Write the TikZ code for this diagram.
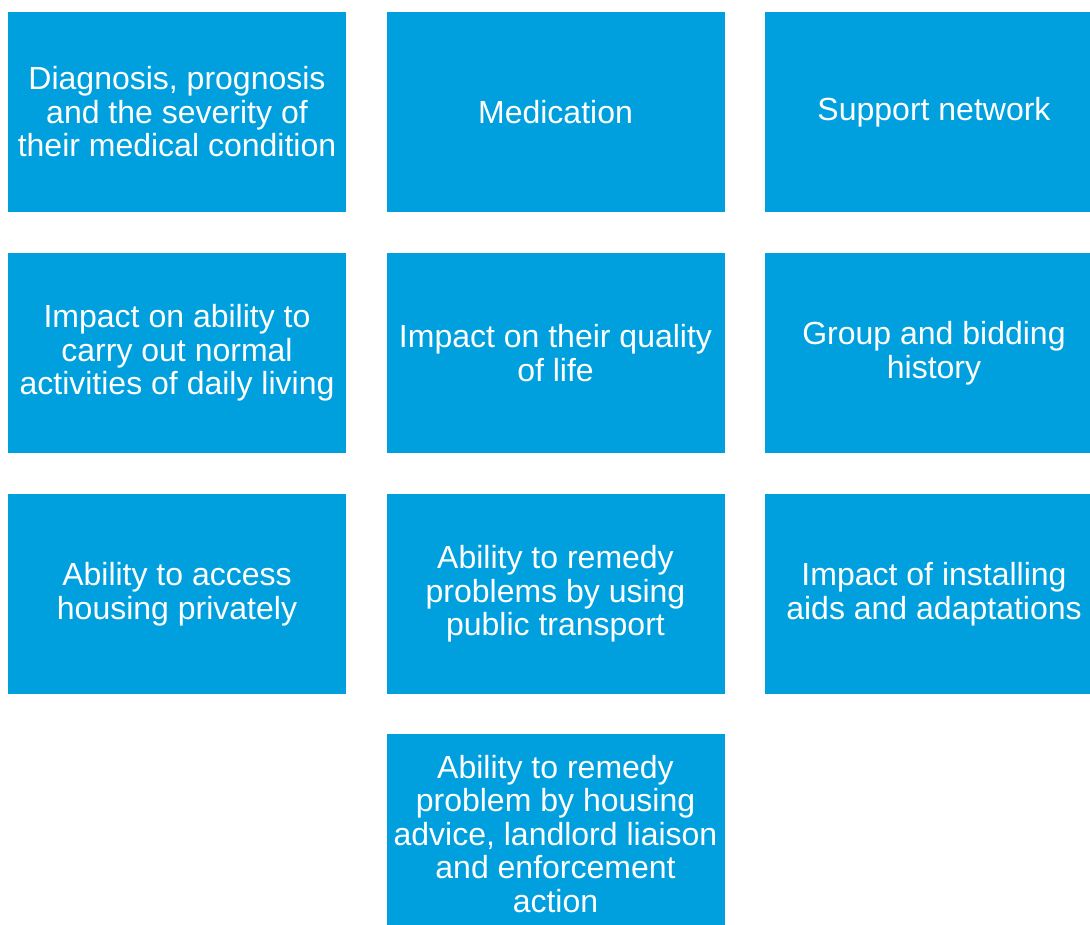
\documentclass[tikz,border=0pt]{standalone}
\usepackage{fontspec}
\setmainfont{Liberation Sans}
\definecolor{cellColor}{RGB}{0,160,223}
\tikzset{
  cell/.style={fill=cellColor,text=white,inner sep=0pt,outer sep=0pt,
    minimum width=338,minimum height=200,text width=330,align=center,
    font=\fontsize{32}{33.5}\selectfont,
    execute at begin node={\spaceskip=0.278em\relax}}
}
\begin{document}
\begin{tikzpicture}[x=1pt,y=-1pt]
\path[use as bounding box,fill=white] (0,0) rectangle (1090,925);

\node[cell] (diagnosis) at (177.0,112.0) {Diagnosis, prognosis\\and the severity of\\their medical condition};

\node[cell] (medication) at (555.5,112.0) {Medication};

\node[cell] (support) at (934.0,112.0) {Support network};

\node[cell] (activities) at (177.0,353.0) {Impact on ability to\\carry out normal\\activities of daily living};

\node[cell] (quality) at (555.5,353.0) {Impact on their quality\\of life};

\node[cell] (bidding) at (934.0,353.0) {Group and bidding\\history};

\node[cell] (privately) at (177.0,594.0) {Ability to access\\housing privately};

\node[cell] (transport) at (555.5,594.0) {Ability to remedy\\problems by using\\public transport};

\node[cell] (adaptations) at (934.0,594.0) {Impact of installing\\aids and adaptations};

\node[cell] (advice) at (555.5,834.0) {Ability to remedy\\problem by housing\\advice, landlord liaison\\and enforcement\\action};
\end{tikzpicture}
\end{document}
